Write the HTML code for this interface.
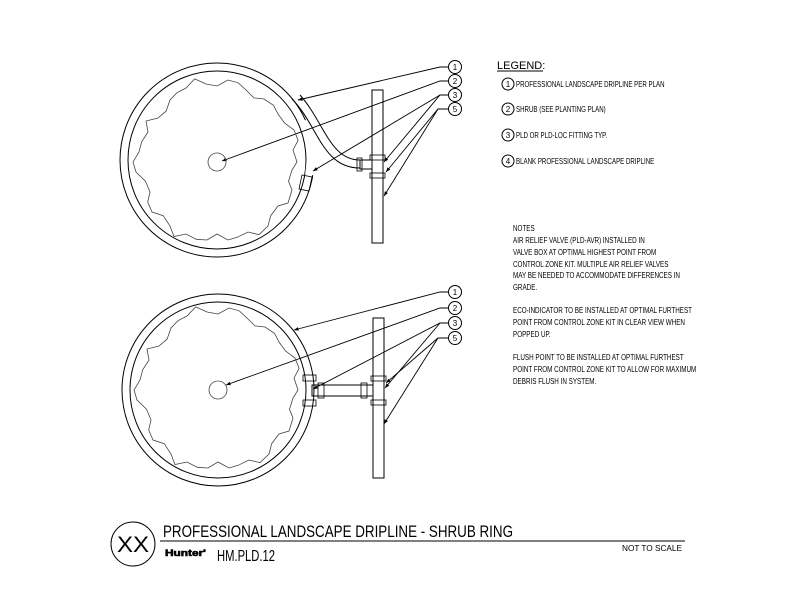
<!DOCTYPE html>
<html><head><meta charset="utf-8"><style>
body{margin:0;background:#fff}
svg{display:block}
text{font-family:"Liberation Sans",sans-serif;fill:#000}
.n{font-size:8.2px}
</style></head><body>
<svg width="792" height="612" viewBox="0 0 792 612" xmlns="http://www.w3.org/2000/svg">
<defs>
<marker id="a" viewBox="0 0 10 10" refX="10" refY="5" markerWidth="7" markerHeight="5" orient="auto"><path d="M0,1 L10,5 L0,9z" fill="#000"/></marker>
<g id="jag"><path d="M297,162 L292,170 288.5,181.2 292,190 288,203 278,206 270.7,215.7 268,226 259,234.7 248,232 237.2,237.3 228,240 217,234 207,240 196.3,239.3 186,234 174,236.5 170,226 163.3,215.7 152,212 147.7,202 150,192 145.5,181.2 136,172 133,162 139,152 141.7,141.8 148,132 146,121 158,118 166.1,111.1 170,100 177,92.7 186,88 194.7,78.9 206,84 217,86 228,80 238.2,82.8 246,90 254,97.9 264,99 273.6,105.4 278,114 284.5,123 294,130 298.1,140.3 293,150z" fill="none" stroke="#444" stroke-width="0.8"/>
<circle cx="217" cy="162" r="9" fill="none" stroke="#444" stroke-width="0.8"/></g>
</defs>
<g stroke="#000" fill="none" stroke-width="1">
<circle cx="217" cy="160" r="97"/>
<circle cx="217" cy="160" r="89"/>
<path d="M306,120 A97,97 0 0 1 312,175" stroke="#fff" stroke-width="14"/>
<path d="M292,99 C318,125 322,168 360,168"/>
<path d="M300,95 C324,122 330,160 360,160"/>
<path d="M302,175 l10,2 l-3,14 l-10,-2z" stroke-width="0.8"/>
<rect x="372" y="90" width="11" height="153"/>
<rect x="360" y="160" width="12" height="9"/>
<rect x="370" y="155" width="15" height="5" stroke-width="0.8"/>
<rect x="370" y="173" width="15" height="5" stroke-width="0.8"/>
<rect x="357" y="158" width="5" height="13" stroke-width="0.8"/>
<circle cx="218" cy="390" r="96"/>
<circle cx="218" cy="390" r="88"/>
<rect x="373" y="318" width="11" height="160"/>
<rect x="312" y="385" width="61" height="11"/>
<rect x="303" y="375" width="13" height="6" stroke-width="0.8"/>
<rect x="303" y="400" width="13" height="6" stroke-width="0.8"/>
<rect x="318" y="383" width="6" height="15" stroke-width="0.8"/>
<rect x="361" y="383" width="6" height="15" stroke-width="0.8"/>
<rect x="371" y="376" width="15" height="5" stroke-width="0.8"/>
<rect x="371" y="400" width="15" height="5" stroke-width="0.8"/>
<circle cx="455" cy="67" r="6.5"/><circle cx="455" cy="81" r="6.5"/><circle cx="455" cy="95" r="6.5"/><circle cx="455" cy="109" r="6.5"/>
<g stroke-width="0.9" marker-end="url(#a)">
<path d="M448,67 L440,67 L298,100"/>
<path d="M448,81 L440,81 L222,161"/>
<path d="M448,95 L440,95 L384,162"/>
<path d="M440,95 L313,171"/>
<path d="M448,109 L438,109 L386,172"/>
<path d="M438,109 L384,196"/>
</g>
<circle cx="455" cy="292" r="6.5"/><circle cx="455" cy="308" r="6.5"/><circle cx="455" cy="323" r="6.5"/><circle cx="455" cy="338" r="6.5"/>
<g stroke-width="0.9" marker-end="url(#a)">
<path d="M448,292 L440,292 L294,330"/>
<path d="M448,308 L440,308 L226,385"/>
<path d="M448,323 L440,323 L313,389"/>
<path d="M440,323 L385,388"/>
<path d="M448,338 L438,338 L386,383"/>
<path d="M438,338 L384,424"/>
</g>
<circle cx="508" cy="84" r="6"/><circle cx="508" cy="109" r="6"/><circle cx="508" cy="135" r="6"/><circle cx="508" cy="161" r="6"/>
<line x1="497" y1="71" x2="543" y2="71"/>
<circle cx="133" cy="544" r="22"/>
<line x1="160" y1="541" x2="685" y2="541"/>
</g>
<use href="#jag"/>
<use href="#jag" transform="translate(1,228)"/>
<g font-size="8" text-anchor="middle">
<text x="455" y="70">1</text><text x="455" y="84">2</text><text x="455" y="98">3</text><text x="455" y="112">5</text>
<text x="455" y="295">1</text><text x="455" y="311">2</text><text x="455" y="326">3</text><text x="455" y="341">5</text>
<text x="508" y="87">1</text><text x="508" y="112">2</text><text x="508" y="138">3</text><text x="508" y="164">4</text>
</g>
<text x="497" y="69" font-size="11">LEGEND:</text>
<g class="n" transform="translate(516,0) scale(0.75,1)">
<text x="0" y="87">PROFESSIONAL LANDSCAPE DRIPLINE PER PLAN</text>
<text x="0" y="112">SHRUB (SEE PLANTING PLAN)</text>
<text x="0" y="138">PLD OR PLD-LOC FITTING TYP.</text>
<text x="0" y="164">BLANK PROFESSIONAL LANDSCAPE DRIPLINE</text>
</g>
<g class="n" transform="translate(513,0) scale(0.77,1)">
<text x="0" y="231">NOTES</text>
<text x="0" y="243">AIR RELIEF VALVE (PLD-AVR) INSTALLED IN</text>
<text x="0" y="255">VALVE BOX AT OPTIMAL HIGHEST POINT FROM</text>
<text x="0" y="267">CONTROL ZONE KIT.  MULTIPLE AIR RELIEF VALVES</text>
<text x="0" y="278">MAY BE NEEDED TO ACCOMMODATE DIFFERENCES IN</text>
<text x="0" y="290">GRADE.</text>
<text x="0" y="313">ECO-INDICATOR TO BE INSTALLED AT OPTIMAL FURTHEST</text>
<text x="0" y="325">POINT FROM CONTROL ZONE KIT IN CLEAR VIEW WHEN</text>
<text x="0" y="337">POPPED UP.</text>
<text x="0" y="360">FLUSH POINT TO BE INSTALLED AT OPTIMAL FURTHEST</text>
<text x="0" y="372">POINT FROM CONTROL ZONE KIT TO ALLOW FOR MAXIMUM</text>
<text x="0" y="384">DEBRIS FLUSH IN SYSTEM.</text>
</g>
<text x="133" y="552" font-size="22" text-anchor="middle" textLength="32" lengthAdjust="spacingAndGlyphs">XX</text>
<text x="163" y="537" font-size="17" textLength="350" lengthAdjust="spacingAndGlyphs">PROFESSIONAL LANDSCAPE DRIPLINE - SHRUB RING</text>
<text x="165" y="556" font-size="9" font-weight="bold" stroke="#000" stroke-width="0.6" textLength="41" lengthAdjust="spacingAndGlyphs">Hunter'</text>
<text x="217" y="561" font-size="16" textLength="58" lengthAdjust="spacingAndGlyphs">HM.PLD.12</text>
<text x="622" y="551" font-size="8.5" textLength="60" lengthAdjust="spacingAndGlyphs">NOT TO SCALE</text>
</svg>
</body></html>
